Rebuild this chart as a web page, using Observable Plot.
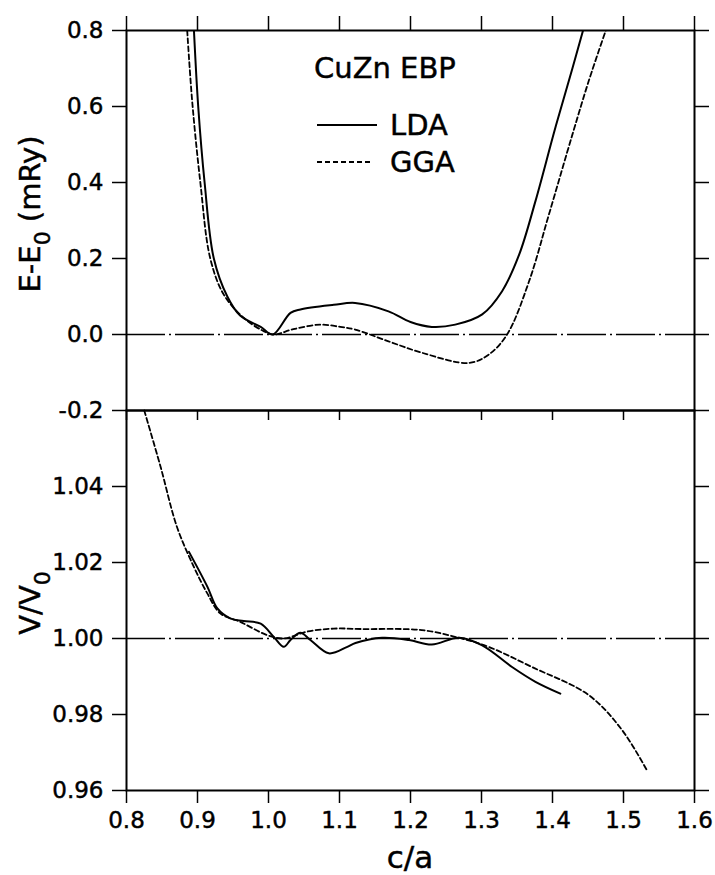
<!DOCTYPE html>
<html><head><meta charset="utf-8">
<script src="https://cdn.jsdelivr.net/npm/d3@7"></script>
<script src="https://cdn.jsdelivr.net/npm/@observablehq/plot@0.6"></script>
<style>
body{margin:0;background:#fff;}
#wrap{position:relative;width:715px;height:875px;font-family:"DejaVu Sans",sans-serif;}
#wrap svg{position:absolute;left:0;overflow:visible;background:transparent;}
#wrap g[aria-label$="tick label"] text, #wrap text.lbl{stroke:black;stroke-width:0.45px;}
</style></head><body><div id="wrap"></div>
<script>
// ---- Data ----
const xTicks = [0.8, 0.9, 1.0, 1.1, 1.2, 1.3, 1.4, 1.5, 1.6];
const energyTicks = [-0.2, 0.0, 0.2, 0.4, 0.6, 0.8];
const volumeTicks = [0.96, 0.98, 1.00, 1.02, 1.04];

const ldaEnergyCa = [0.895, 0.901, 0.910, 0.923, 0.942, 0.960, 0.989, 1.006, 1.031, 1.045, 1.092, 1.122, 1.169, 1.200, 1.230, 1.263, 1.301, 1.329, 1.353, 1.376, 1.404, 1.428, 1.443];
const ldaEnergy   = [0.80, 0.60, 0.40, 0.20, 0.10, 0.050, 0.020, 0.0, 0.057, 0.066, 0.078, 0.083, 0.061, 0.033, 0.020, 0.026, 0.053, 0.114, 0.21, 0.351, 0.544, 0.70, 0.80];

const ggaEnergyCa = [0.8855, 0.8925, 0.904, 0.918, 0.937, 0.965, 0.993, 1.007, 1.035, 1.073, 1.101, 1.122, 1.169, 1.216, 1.282, 1.310, 1.336, 1.367, 1.395, 1.428, 1.451, 1.475];
const ggaEnergy   = [0.80, 0.614, 0.40, 0.20, 0.105, 0.044, 0.009, 0.0, 0.014, 0.026, 0.020, 0.013, -0.018, -0.048, -0.075, -0.053, 0.0, 0.14, 0.316, 0.526, 0.667, 0.80];

const ldaVolumeCa = [0.888, 0.914, 0.928, 0.946, 0.965, 0.989, 1.0075, 1.0215, 1.031, 1.045, 1.059, 1.085, 1.111, 1.1225, 1.160, 1.198, 1.230, 1.268, 1.301, 1.343, 1.376, 1.411];
const ldaVolume   = [1.0228, 1.0136, 1.0079, 1.0053, 1.0046, 1.0039, 1.0004, 0.9978, 0.9996, 1.0015, 0.9996, 0.9961, 0.9978, 0.9988, 1.0002, 0.9996, 0.9984, 1.0002, 0.9982, 0.9925, 0.9886, 0.9855];

const ggaVolumeCa = [0.825, 0.848, 0.871, 0.895, 0.914, 0.932, 0.960, 0.998, 1.0215, 1.054, 1.092, 1.130, 1.216, 1.268, 1.310, 1.371, 1.451, 1.498, 1.533];
const ggaVolume   = [1.0600, 1.0452, 1.0294, 1.0188, 1.0118, 1.0066, 1.0044, 1.0009, 1.0000, 1.0018, 1.0026, 1.0025, 1.0022, 1.0002, 0.9978, 0.9925, 0.9851, 0.9759, 0.9653];

const legendLabels = ["LDA", "GGA"];
const legendTitle = "CuZn EBP";

// ---- Build tables ----
const zip = (xs, ys) => xs.map((x, i) => ({x, y: ys[i]}));
const topLDA = zip(ldaEnergyCa, ldaEnergy);
const topGGA = zip(ggaEnergyCa, ggaEnergy);
const botLDA = zip(ldaVolumeCa, ldaVolume);
const botGGA = zip(ggaVolumeCa, ggaVolume);

const FONT = '"DejaVu Sans", sans-serif';
const dashDot = "39,4,2,4";
const ggaDash = "5,3";

const common = {
  width: 715, marginLeft: 126, marginRight: 21,
  x: {domain: [0.8, 1.6]},
  style: {fontFamily: FONT, fontSize: "23px", background: "transparent", color: "black", overflow: "visible"}
};

const topPlot = Plot.plot({
  ...common,
  height: 410, marginTop: 30, marginBottom: 0,
  y: {domain: [-0.2, 0.8]},
  marks: [
    Plot.ruleY([0], {stroke: "black", strokeWidth: 1.3, strokeDasharray: dashDot}),
    Plot.line(topLDA, {x: "x", y: "y", curve: "catmull-rom", stroke: "black", strokeWidth: 2, clip: true}),
    Plot.line(topGGA, {x: "x", y: "y", curve: "catmull-rom", stroke: "black", strokeWidth: 1.8, strokeDasharray: ggaDash, clip: true}),
    Plot.frame({stroke: "black", strokeWidth: 2}),
    Plot.axisY({anchor: "left", ticks: energyTicks, tickSize: 14, tickPadding: 9, tickFormat: d => d.toFixed(1), label: null, strokeWidth: 1.5}),
    Plot.axisY({anchor: "right", ticks: energyTicks, tickSize: 14, tickFormat: () => "", label: null, strokeWidth: 1.5}),
    Plot.axisX({anchor: "top", ticks: xTicks, tickSize: 15, tickFormat: () => "", label: null, strokeWidth: 1.5}),
    Plot.axisX({anchor: "bottom", ticks: xTicks, tickSize: 10, tickFormat: () => "", label: null, strokeWidth: 1.5})
  ]
});

const botPlot = Plot.plot({
  ...common,
  height: 465, marginTop: 0, marginBottom: 85,
  y: {domain: [0.96, 1.06]},
  marks: [
    Plot.ruleY([1.0], {stroke: "black", strokeWidth: 1.3, strokeDasharray: dashDot}),
    Plot.line(botLDA, {x: "x", y: "y", curve: "catmull-rom", stroke: "black", strokeWidth: 2, clip: true}),
    Plot.line(botGGA, {x: "x", y: "y", curve: "catmull-rom", stroke: "black", strokeWidth: 1.8, strokeDasharray: ggaDash}),
    Plot.frame({stroke: "black", strokeWidth: 2}),
    Plot.axisY({anchor: "left", ticks: volumeTicks, tickSize: 14, tickPadding: 9, tickFormat: d => d.toFixed(2), label: null, strokeWidth: 1.5}),
    Plot.axisY({anchor: "right", ticks: volumeTicks, tickSize: 14, tickFormat: () => "", label: null, strokeWidth: 1.5}),
    Plot.axisX({anchor: "bottom", ticks: xTicks, tickSize: 13, tickPadding: 8, tickFormat: d => d.toFixed(1), label: null, strokeWidth: 1.5})
  ]
});

const wrap = document.getElementById("wrap");
botPlot.style.top = "410px";
topPlot.style.top = "0px";
wrap.appendChild(botPlot);
wrap.appendChild(topPlot);

// ---- Titles and legend as real text ----
function yTitle(svg, cx, cy, main, sub, rest) {
  const t = d3.select(svg).append("text").attr("class", "lbl")
    .attr("transform", `translate(${cx},${cy}) rotate(-90)`)
    .attr("text-anchor", "middle")
    .attr("font-family", FONT).attr("font-size", 29).attr("fill", "black");
  t.append("tspan").text(main);
  t.append("tspan").attr("dy", 10).attr("font-size", 22).text(sub);
  if (rest) t.append("tspan").attr("dy", -10).text(rest);
}
yTitle(topPlot, 40, 214, "E-E", "0", "\u00a0(mRy)");
yTitle(botPlot, 40, 193, "V/V", "0", "");

d3.select(botPlot).append("text").attr("class", "lbl")
  .attr("x", 410).attr("y", 458)
  .attr("text-anchor", "middle")
  .attr("font-family", FONT).attr("font-size", 31).attr("fill", "black")
  .text("c/a");

// legend
const lg = d3.select(topPlot).append("g").attr("font-family", FONT).attr("fill", "black").attr("text-anchor", "start");
lg.append("text").attr("class", "lbl").attr("x", 314).attr("y", 78).attr("font-size", 29).text(legendTitle);
const rows = [{y: 125, x2: 377, dash: null, w: 2}, {y: 162, x2: 373, dash: ggaDash, w: 1.8}];
rows.forEach((r, i) => {
  lg.append("line").attr("x1", 317).attr("x2", r.x2).attr("y1", r.y).attr("y2", r.y)
    .attr("stroke", "black").attr("stroke-width", r.w).attr("stroke-dasharray", r.dash);
  lg.append("text").attr("class", "lbl").attr("x", 390).attr("y", r.y + 10).attr("font-size", 29).text(legendLabels[i]);
});
</script>
</body></html>
